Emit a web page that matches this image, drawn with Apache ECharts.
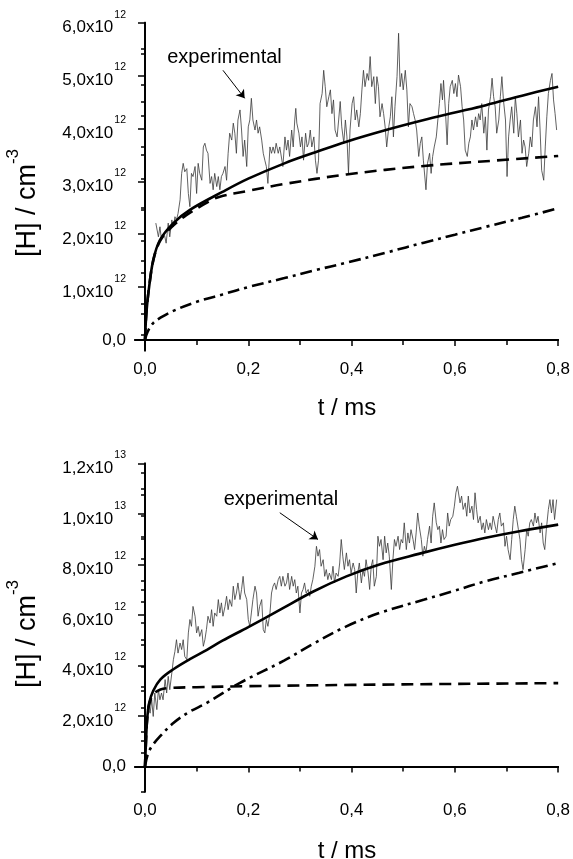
<!DOCTYPE html>
<html><head><meta charset="utf-8">
<script src="https://cdn.jsdelivr.net/npm/echarts@6/dist/echarts.min.js"></script>
<style>html,body{margin:0;padding:0;background:#fff}#c{width:573px;height:859px}</style>
</head><body><div id="c"></div>
<script>
// ---- Upper panel (values in 1e12 cm^-3, time in ms) ----
const topExpT = [0.021,0.026,0.029,0.032,0.037,0.041,0.045,0.048,0.052,0.055,0.058,0.061,0.064,0.068,0.071,0.074,0.077,0.081,0.084,0.087,0.090,0.093,0.097,0.100,0.103,0.106,0.110,0.113,0.116,0.119,0.122,0.126,0.129,0.132,0.135,0.139,0.142,0.145,0.148,0.151,0.155,0.158,0.161,0.164,0.168,0.171,0.174,0.177,0.180,0.184,0.187,0.190,0.193,0.197,0.200,0.203,0.206,0.209,0.213,0.216,0.219,0.222,0.226,0.229,0.232,0.235,0.238,0.242,0.245,0.248,0.251,0.254,0.258,0.261,0.267,
0.271,0.274,0.277,0.280,0.284,0.287,0.290,0.292,0.294,0.298,0.301,0.304,0.307,0.311,0.314,0.317,0.320,0.323,0.327,0.330,0.333,0.336,0.339,0.343,0.346,0.349,0.352,0.356,0.359,0.362,0.365,0.368,0.372,0.375,0.378,0.381,0.385,0.388,0.391,0.394,0.397,0.401,0.404,0.407,0.410,0.414,0.417,0.420,0.423,0.426,0.430,0.433,0.436,0.439,0.443,0.446,0.449,0.452,0.455,0.459,0.462,0.465,0.468,0.472,0.475,0.478,0.481,0.484,0.488,0.491,0.494,0.497,0.500,0.504,0.507,0.510,0.513,0.517,0.520,0.523,0.526,0.530,0.533,0.536,0.539,
0.541,0.544,0.547,0.551,0.554,0.557,0.560,0.564,0.567,0.570,0.573,0.576,0.578,0.582,0.585,0.588,0.591,0.595,0.598,0.601,0.604,0.607,0.611,0.614,0.617,0.620,0.624,0.627,0.630,0.633,0.636,0.640,0.643,0.646,0.649,0.652,0.656,0.659,0.662,0.665,0.669,0.672,0.675,0.678,0.681,0.685,0.688,0.691,0.694,0.698,0.701,0.704,0.707,0.710,0.714,0.717,0.720,0.723,0.727,0.730,0.733,0.736,0.739,0.743,0.746,0.749,0.752,0.756,0.759,0.762,0.765,0.768,0.772,0.775,0.778,0.781,0.785,0.788,0.791,0.794,0.797];
const topExpH = [2.21,1.95,2.14,1.89,2.02,1.83,2.21,1.95,2.27,2.14,2.33,2.27,2.39,2.65,3.15,3.34,3.18,3.24,2.77,2.52,3.15,3.09,3.28,2.77,3.34,3.15,3.02,3.65,3.72,3.59,3.53,2.96,3.09,2.84,3.15,2.90,3.09,2.84,3.09,3.15,3.28,3.02,3.53,3.91,3.78,4.10,3.91,3.53,4.16,4.35,3.97,3.47,3.78,3.28,4.03,4.16,4.57,4.16,3.97,4.16,3.91,4.03,3.78,3.53,3.40,3.28,2.96,3.65,3.53,3.65,3.53,3.72,3.53,3.65,3.28,
3.84,3.59,3.78,3.47,3.97,3.65,4.16,4.38,4.10,3.91,3.65,3.84,3.40,3.91,3.65,3.72,3.97,3.65,3.84,3.40,3.15,3.40,4.47,4.66,5.10,4.79,4.41,4.60,4.73,4.28,4.54,3.97,3.84,4.16,4.51,4.03,3.72,4.16,3.84,3.15,3.97,4.47,4.60,4.16,4.35,4.03,4.28,4.73,5.10,4.79,5.04,4.91,5.36,4.79,4.98,4.47,4.98,4.79,4.22,4.47,4.28,4.03,3.65,4.03,4.22,4.60,3.84,4.41,4.98,5.80,4.79,5.04,4.73,5.10,4.73,4.03,4.47,4.41,4.28,4.16,3.97,3.47,3.72,3.84,3.40,
3.40,2.84,3.34,3.53,3.15,3.47,3.65,3.84,4.16,4.47,4.85,4.54,4.91,4.28,3.69,4.47,4.79,4.91,4.66,4.85,4.60,5.01,4.79,4.41,4.16,3.59,3.47,3.72,3.84,4.16,3.97,4.22,4.03,4.28,4.16,4.47,3.91,4.22,3.59,4.35,4.60,4.95,4.60,4.41,3.91,4.16,4.60,4.98,4.54,4.16,3.09,3.84,4.16,4.41,3.91,4.60,4.28,3.84,4.16,3.53,3.78,3.65,3.28,3.53,3.84,3.65,4.16,4.41,4.03,4.60,3.97,3.21,3.02,3.65,4.22,4.66,4.91,5.04,4.54,4.28,3.97];
const topSolidT = [0,0.002,0.004,0.008,0.016,0.029,0.055,0.087,0.15,0.2,0.27,0.33,0.39,0.47,0.54,0.6,0.66,0.73,0.8];
const topSolidH = [0,0.4,0.65,1.0,1.51,1.89,2.21,2.46,2.80,3.05,3.34,3.55,3.75,3.98,4.16,4.30,4.44,4.62,4.79];
const topDashT = [0,0.002,0.004,0.008,0.016,0.029,0.05,0.08,0.126,0.145,0.2,0.27,0.39,0.54,0.66,0.8];
const topDashH = [0,0.4,0.65,1.0,1.5,1.87,2.12,2.36,2.63,2.71,2.82,2.95,3.13,3.29,3.38,3.48];
const topDashDotT = [0,0.005,0.016,0.03,0.055,0.1,0.15,0.2,0.27,0.33,0.39,0.47,0.54,0.6,0.66,0.73,0.8];
const topDashDotH = [0,0.15,0.32,0.42,0.55,0.72,0.86,1.0,1.17,1.32,1.46,1.66,1.84,1.99,2.14,2.31,2.49];
const topArrow = [[0.151,5.10],[0.193,4.57]];

// ---- Lower panel ----
const botExpT = [0.003,0.006,0.010,0.013,0.016,0.019,0.023,0.026,0.029,0.032,0.035,0.039,0.042,0.045,0.048,0.052,0.055,0.058,0.061,0.064,0.068,0.071,0.074,0.077,0.081,0.084,0.087,0.090,0.093,0.097,0.100,0.103,0.106,0.110,0.113,0.116,0.119,0.122,0.126,0.129,0.132,0.135,0.139,0.142,0.145,0.148,0.151,0.155,0.158,0.161,0.164,0.168,0.171,0.174,0.177,0.180,0.184,0.187,0.190,0.193,0.197,0.200,0.203,0.206,0.209,0.213,0.216,0.219,0.222,0.226,0.229,0.232,0.235,0.238,0.242,0.245,0.248,0.251,0.254,0.258,0.261,0.264,0.267,0.271,
0.274,0.277,0.280,0.284,0.287,0.290,0.293,0.296,0.300,0.303,0.306,0.309,0.312,0.316,0.319,0.322,0.325,0.329,0.332,0.335,0.338,0.341,0.345,0.348,0.351,0.354,0.357,0.361,0.364,0.367,0.370,0.374,0.377,0.380,0.383,0.386,0.390,0.393,0.396,0.399,0.403,0.406,0.409,0.412,0.415,0.419,0.422,0.425,0.428,0.432,0.435,0.438,0.441,0.444,0.448,0.451,0.454,0.457,0.461,0.464,0.467,0.470,0.473,0.477,0.480,0.483,0.486,0.490,0.493,0.496,0.499,0.502,0.506,0.509,0.512,0.515,0.519,0.522,0.525,0.528,0.531,0.535,0.538,0.541,
0.544,0.547,0.551,0.554,0.557,0.560,0.564,0.567,0.570,0.573,0.576,0.579,0.583,0.586,0.589,0.592,0.596,0.599,0.602,0.605,0.607,0.610,0.613,0.616,0.620,0.623,0.626,0.629,0.633,0.636,0.639,0.642,0.645,0.649,0.652,0.655,0.658,0.661,0.665,0.668,0.671,0.674,0.678,0.681,0.684,0.687,0.690,0.694,0.697,0.700,0.703,0.707,0.710,0.713,0.716,0.719,0.723,0.726,0.729,0.732,0.736,0.739,0.742,0.745,0.748,0.752,0.755,0.758,0.761,0.765,0.768,0.771,0.774,0.777,0.781,0.784,0.787,0.790,0.793,0.797];
const botExpH = [1.59,2.38,2.11,2.64,1.98,2.91,2.25,3.04,2.64,2.91,2.64,3.44,2.91,3.57,3.04,3.70,4.23,4.56,5.02,4.49,4.89,4.63,5.02,4.36,4.23,5.29,5.82,5.55,6.34,5.95,5.29,5.55,5.15,5.42,4.76,5.02,5.42,5.95,5.68,6.21,5.55,6.08,5.95,6.61,6.08,6.48,5.95,6.34,6.74,6.21,6.61,6.34,7.14,6.61,6.87,7.27,6.61,7.01,7.53,6.87,6.61,5.82,5.55,6.08,6.61,7.14,6.87,5.95,6.34,6.61,5.42,5.29,5.82,5.55,6.08,6.87,7.14,7.27,7.01,7.40,7.53,7.14,7.53,7.14,
7.27,7.66,7.01,7.53,7.14,7.40,6.87,7.14,6.08,6.87,7.01,7.27,6.87,7.01,6.74,7.14,7.40,7.93,8.72,8.33,8.59,7.93,8.19,7.53,7.80,7.40,7.66,7.40,7.93,7.27,7.66,7.53,8.06,8.99,8.33,7.80,8.46,7.93,8.19,7.66,8.06,7.80,6.87,7.66,8.06,7.27,7.80,7.53,8.19,7.66,7.01,7.93,8.19,7.14,7.53,9.12,8.72,8.99,8.19,9.12,8.46,8.85,8.33,7.01,8.19,8.99,8.72,9.12,8.59,8.99,8.85,9.65,8.59,9.25,8.85,9.38,8.99,8.59,9.25,10.04,9.52,8.99,8.33,8.72,
8.46,8.99,9.52,8.85,9.91,10.44,9.65,9.38,9.52,8.85,9.38,8.99,9.12,10.04,9.52,9.78,9.91,10.31,10.84,11.10,11.17,10.44,10.71,10.18,10.44,9.91,10.71,10.04,10.31,9.78,10.84,10.18,9.65,9.91,9.38,9.65,9.25,9.78,9.38,9.65,9.38,9.91,9.52,9.25,9.78,10.04,9.52,9.65,8.72,9.12,8.59,8.19,8.99,9.78,10.31,9.91,9.38,8.99,8.19,7.80,8.59,9.38,9.12,9.65,9.78,9.52,10.04,9.65,9.91,9.25,9.65,8.85,8.59,9.38,10.18,10.57,10.04,10.57,9.78,10.57];
const botSolidT = [0,0.002,0.004,0.008,0.016,0.03,0.055,0.087,0.12,0.15,0.2,0.261,0.325,0.39,0.454,0.53,0.6,0.66,0.725,0.8];
const botSolidH = [0,1.0,1.8,2.5,3.0,3.45,3.85,4.25,4.62,4.98,5.52,6.2,6.92,7.53,8.0,8.42,8.78,9.06,9.32,9.58];
const botDashT = [0,0.002,0.004,0.008,0.016,0.03,0.05,0.1,0.2,0.4,0.6,0.8];
const botDashH = [0,1.0,1.8,2.45,2.85,3.05,3.11,3.14,3.18,3.23,3.27,3.30];
const botDashDotT = [0,0.005,0.013,0.029,0.055,0.085,0.119,0.184,0.27,0.325,0.39,0.454,0.541,0.596,0.66,0.725,0.8];
const botDashDotH = [0,0.45,0.79,1.19,1.72,2.15,2.51,3.31,4.2,4.85,5.55,6.08,6.61,6.94,7.34,7.67,8.06];
const botArrow = [[0.261,10.05],[0.335,8.99]];

// ---- Tick values ----
const xMajor = [0,0.2,0.4,0.6,0.8];
const xMinor = [0.1,0.3,0.5,0.7];
const xTop = [0,0.1,0.2,0.3,0.4,0.5,0.6,0.7,0.8];
const topYMajor = [0,1,2,3,4,5,6];
const topYMinor = [0.5,1.5,2.5,3.5,4.5,5.5];
const topYRight = [5.42,4.82,4.24,3.65,3.04,2.46,1.88,1.28,0.69,0.09];
const botYMajor = [0,2,4,6,8,10,12];
const botYMinor = [-1,1,3,5,7,9,11];
const botYRight = [11.63,10.77,9.94,9.09,8.22,7.37,6.54,5.68,4.82,3.96,3.17,2.31,1.39,0.53];

const zip = (a,b) => a.map((v,i)=>[v,b[i]]);
const FONT = 'Liberation Sans, Arial, sans-serif';
function sciLabel(v){
  if (Math.abs(v) < 1e-9) return '{n|0,0}';
  const val = v*1e12;
  const e = Math.floor(Math.log10(val)+1e-9);
  const m = val/Math.pow(10,e);
  return '{m|' + m.toFixed(1).replace('.',',') + 'x10}{s|' + e + '}';
}
const richY = {
  n:{fontSize:17,fontFamily:FONT,color:'#000'},
  m:{fontSize:17,fontFamily:FONT,color:'#000',padding:[10,0,0,0]},
  s:{fontSize:10.5,fontFamily:FONT,color:'#000',verticalAlign:'top',lineHeight:14,padding:[0,0,0,1]}
};
const AX = {lineStyle:{color:'#000',width:1.8}};
function xAxes(gi){
  return [
    {gridIndex:gi,type:'value',position:'bottom',min:-0.0193,max:0.8,axisLine:Object.assign({show:true},AX),
     axisTick:{show:true,inside:false,length:6,customValues:xMajor,lineStyle:{color:'#000',width:1.5}},
     axisLabel:{show:true,customValues:xMajor,margin:10,fontSize:17,fontFamily:FONT,color:'#000',formatter:v=>v.toFixed(1).replace('.',',')},
     splitLine:{show:false}},
    {gridIndex:gi,type:'value',position:'bottom',min:-0.0193,max:0.8,axisLine:{show:false},
     axisTick:{show:true,inside:false,length:4,customValues:xMinor,lineStyle:{color:'#000',width:1.5}},
     axisLabel:{show:false},splitLine:{show:false}},
    {gridIndex:gi,type:'value',position:'top',min:-0.0193,max:0.8,axisLine:Object.assign({show:true},AX),
     axisTick:{show:true,inside:true,length:5,customValues:xTop,lineStyle:{color:'#000',width:1.5}},
     axisLabel:{show:false},splitLine:{show:false}}
  ];
}
function yAxes(gi,min,max,major,minor,right){
  return [
    {gridIndex:gi,type:'value',position:'left',min:min,max:max,axisLine:Object.assign({show:true},AX),
     axisTick:{show:true,inside:false,length:7,customValues:major,lineStyle:{color:'#000',width:1.5}},
     axisLabel:{show:true,customValues:major,margin:9,formatter:sciLabel,rich:richY},
     splitLine:{show:false}},
    {gridIndex:gi,type:'value',position:'left',min:min,max:max,axisLine:{show:false},
     axisTick:{show:true,inside:false,length:4,customValues:minor,lineStyle:{color:'#000',width:1.5}},
     axisLabel:{show:false},splitLine:{show:false}},
    {gridIndex:gi,type:'value',position:'right',min:min,max:max,axisLine:Object.assign({show:true},AX),
     axisTick:{show:true,inside:true,length:4,customValues:right,lineStyle:{color:'#000',width:1.5}},
     axisLabel:{show:false},splitLine:{show:false}}
  ];
}
function seriesFor(gi, exp, solid, dash, dashdot, arrow){
  const xi = gi*3, yi = gi*3;
  return [
    {type:'line',xAxisIndex:xi,yAxisIndex:yi,data:exp,showSymbol:false,symbol:'none',
     lineStyle:{color:'#3a3a3a',width:0.8},z:2,
     markLine:{silent:true,symbol:['none','arrow'],symbolSize:8,label:{show:false},
       lineStyle:{color:'#000',width:1,type:'solid'},
       data:[[{coord:arrow[0]},{coord:arrow[1]}]]}},
    {type:'line',xAxisIndex:xi,yAxisIndex:yi,data:solid,showSymbol:false,symbol:'none',smooth:0.35,
     lineStyle:{color:'#000',width:2.6},z:4},
    {type:'line',xAxisIndex:xi,yAxisIndex:yi,data:dash,showSymbol:false,symbol:'none',smooth:0.35,
     lineStyle:{color:'#000',width:2.6,type:[12,7]},z:3},
    {type:'line',xAxisIndex:xi,yAxisIndex:yi,data:dashdot,showSymbol:false,symbol:'none',smooth:0.35,
     lineStyle:{color:'#000',width:2.6,type:[12,5,3,5]},z:3}
  ];
}
const chart = echarts.init(document.getElementById('c'),null,{renderer:'canvas'});
const titleRich = {sup:{fontSize:17,fontFamily:FONT,color:'#000',verticalAlign:'top',lineHeight:17}, b:{fontSize:27,fontFamily:FONT,color:'#000',padding:[9,0,0,0]}};
chart.setOption({
  animation:false,
  backgroundColor:'#fff',
  grid:[{left:135,right:14,top:22.7,height:327.8},{left:135,right:14,top:463.5,height:328.2}],
  xAxis:[].concat(xAxes(0),xAxes(1)),
  yAxis:[].concat(yAxes(0,-0.2,6,topYMajor,topYMinor,topYRight),yAxes(1,-1,12,botYMajor,botYMinor,botYRight)),
  series:[].concat(
    seriesFor(0,zip(topExpT,topExpH),zip(topSolidT,topSolidH),zip(topDashT,topDashH),zip(topDashDotT,topDashDotH),topArrow),
    seriesFor(1,zip(botExpT,botExpH),zip(botSolidT,botSolidH),zip(botDashT,botDashH),zip(botDashDotT,botDashDotH),botArrow)
  ),
  graphic:[
    {type:'text',x:347,y:408,style:{text:'t / ms',font:'24px '+FONT,fill:'#000',align:'center',verticalAlign:'middle'}},
    {type:'text',x:347,y:851,style:{text:'t / ms',font:'24px '+FONT,fill:'#000',align:'center',verticalAlign:'middle'}},
    {type:'text',x:23,y:203,rotation:Math.PI/2,style:{text:'{b|[H] / cm}{sup|-3}',rich:titleRich,align:'center',verticalAlign:'middle'}},
    {type:'text',x:23,y:634,rotation:Math.PI/2,style:{text:'{b|[H] / cm}{sup|-3}',rich:titleRich,align:'center',verticalAlign:'middle'}},
    {type:'text',x:224.5,y:57,style:{text:'experimental',font:'20px '+FONT,fill:'#000',align:'center',verticalAlign:'middle'}},
    {type:'text',x:281,y:499,style:{text:'experimental',font:'20px '+FONT,fill:'#000',align:'center',verticalAlign:'middle'}}
  ]
});
</script></body></html>
